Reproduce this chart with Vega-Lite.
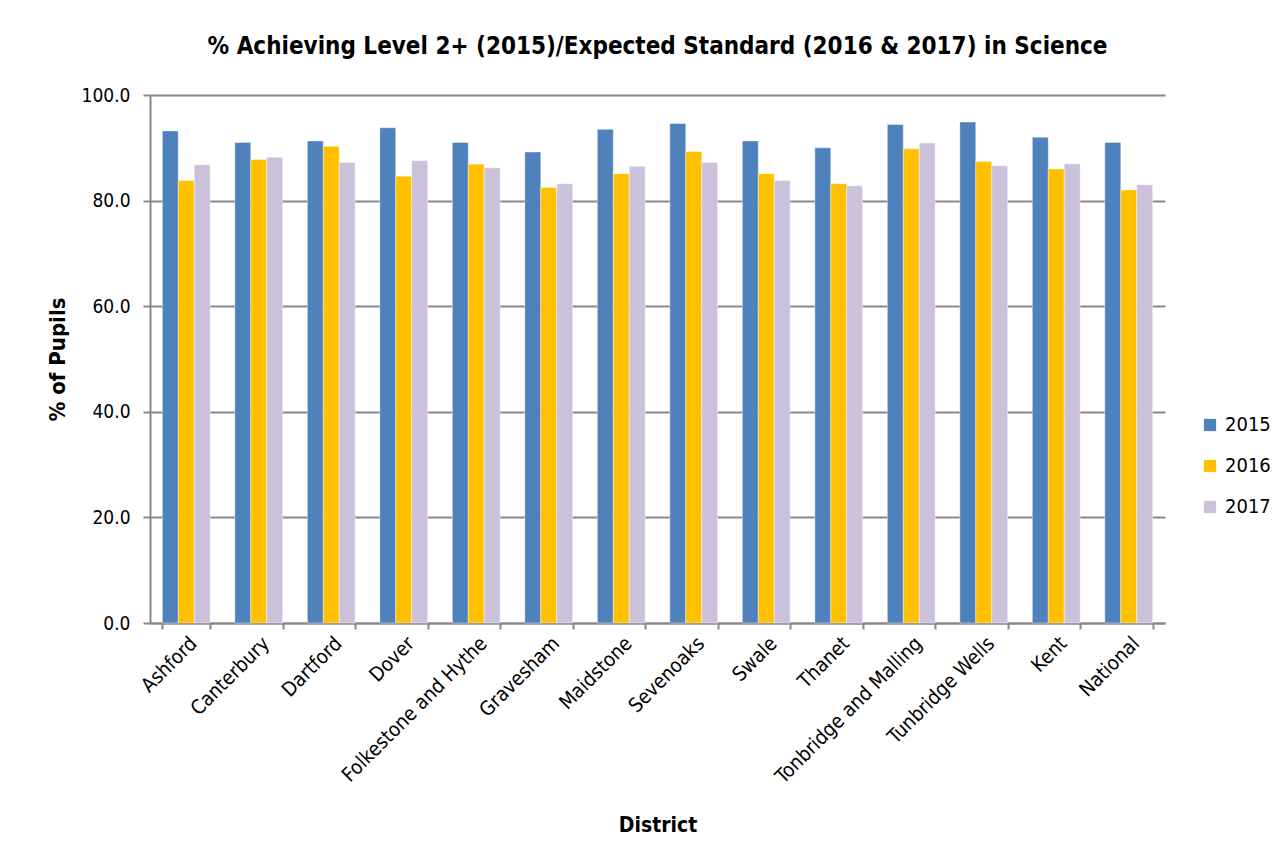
{
  "$schema": "https://vega.github.io/schema/vega-lite/v6.json",
  "width": 1015,
  "height": 528,
  "autosize": {"type": "none"},
  "padding": {"left": 150, "top": 95, "right": 119, "bottom": 241},
  "background": "white",
  "config": {
    "font": "DejaVu Sans Condensed",
    "view": {"stroke": null}
  },
  "title": {
    "text": "% Achieving Level 2+ (2015)/Expected Standard (2016 & 2017) in Science",
    "font": "DejaVu Sans Condensed",
    "fontSize": 24,
    "fontWeight": "bold",
    "color": "black",
    "anchor": "middle",
    "offset": 27
  },
  "data": {
    "values": [
      {"district": "Ashford", "year": "2015", "value": 93.2},
      {"district": "Ashford", "year": "2016", "value": 83.8},
      {"district": "Ashford", "year": "2017", "value": 86.8},
      {"district": "Canterbury", "year": "2015", "value": 91.0},
      {"district": "Canterbury", "year": "2016", "value": 87.8},
      {"district": "Canterbury", "year": "2017", "value": 88.2},
      {"district": "Dartford", "year": "2015", "value": 91.3},
      {"district": "Dartford", "year": "2016", "value": 90.3},
      {"district": "Dartford", "year": "2017", "value": 87.2},
      {"district": "Dover", "year": "2015", "value": 93.8},
      {"district": "Dover", "year": "2016", "value": 84.6},
      {"district": "Dover", "year": "2017", "value": 87.6},
      {"district": "Folkestone and Hythe", "year": "2015", "value": 91.0},
      {"district": "Folkestone and Hythe", "year": "2016", "value": 86.9},
      {"district": "Folkestone and Hythe", "year": "2017", "value": 86.2},
      {"district": "Gravesham", "year": "2015", "value": 89.2},
      {"district": "Gravesham", "year": "2016", "value": 82.5},
      {"district": "Gravesham", "year": "2017", "value": 83.2},
      {"district": "Maidstone", "year": "2015", "value": 93.5},
      {"district": "Maidstone", "year": "2016", "value": 85.1},
      {"district": "Maidstone", "year": "2017", "value": 86.5},
      {"district": "Sevenoaks", "year": "2015", "value": 94.6},
      {"district": "Sevenoaks", "year": "2016", "value": 89.3},
      {"district": "Sevenoaks", "year": "2017", "value": 87.2},
      {"district": "Swale", "year": "2015", "value": 91.3},
      {"district": "Swale", "year": "2016", "value": 85.1},
      {"district": "Swale", "year": "2017", "value": 83.8},
      {"district": "Thanet", "year": "2015", "value": 90.0},
      {"district": "Thanet", "year": "2016", "value": 83.2},
      {"district": "Thanet", "year": "2017", "value": 82.8},
      {"district": "Tonbridge and Malling", "year": "2015", "value": 94.4},
      {"district": "Tonbridge and Malling", "year": "2016", "value": 89.8},
      {"district": "Tonbridge and Malling", "year": "2017", "value": 90.9},
      {"district": "Tunbridge Wells", "year": "2015", "value": 94.9},
      {"district": "Tunbridge Wells", "year": "2016", "value": 87.4},
      {"district": "Tunbridge Wells", "year": "2017", "value": 86.6},
      {"district": "Kent", "year": "2015", "value": 92.0},
      {"district": "Kent", "year": "2016", "value": 86.0},
      {"district": "Kent", "year": "2017", "value": 87.0},
      {"district": "National", "year": "2015", "value": 91.0},
      {"district": "National", "year": "2016", "value": 82.0},
      {"district": "National", "year": "2017", "value": 83.0}
    ]
  },
  "mark": {"type": "bar", "stroke": "white", "strokeWidth": 0.7, "strokeOpacity": 0.6},
  "encoding": {
    "x": {
      "field": "district",
      "type": "nominal",
      "sort": null,
      "scale": {"paddingInner": 0.34, "paddingOuter": 0.17},
      "axis": {
        "title": "District",
        "titleFont": "DejaVu Sans Condensed",
        "titleFontSize": 21,
        "titleFontWeight": "bold",
        "titleColor": "black",
        "titleY": 202,
        "titleBaseline": "middle",
        "labelAngle": -45,
        "labelAlign": "right",
        "labelBaseline": "top",
        "labelFontSize": 20,
        "labelColor": "black",
        "labelPadding": 4,
        "labelLimit": 0,
        "labelOverlap": false,
        "tickBand": "extent",
        "tickSize": 6,
        "tickColor": "#888888",
        "tickWidth": 2,
        "domainColor": "#888888",
        "domainWidth": 2,
        "grid": false
      }
    },
    "xOffset": {"field": "year", "type": "nominal", "sort": ["2015", "2016", "2017"]},
    "y": {
      "field": "value",
      "type": "quantitative",
      "scale": {"domain": [0, 100]},
      "axis": {
        "title": "% of Pupils",
        "titleFont": "DejaVu Sans Condensed",
        "titleFontSize": 22,
        "titleFontWeight": "bold",
        "titleColor": "black",
        "titleX": -93,
        "titleBaseline": "middle",
        "values": [0, 20, 40, 60, 80, 100],
        "format": ".1f",
        "labelFontSize": 19,
        "labelColor": "black",
        "labelPadding": 13,
        "tickSize": 7,
        "tickColor": "#888888",
        "tickWidth": 2,
        "domainColor": "#888888",
        "domainWidth": 2,
        "grid": true,
        "gridColor": "#888888",
        "gridWidth": 2
      }
    },
    "color": {
      "field": "year",
      "type": "nominal",
      "scale": {"domain": ["2015", "2016", "2017"], "range": ["#4F81BD", "#FFC000", "#CCC1DA"]},
      "legend": {
        "title": null,
        "orient": "none",
        "legendX": 1050,
        "legendY": 320,
        "symbolType": "square",
        "symbolSize": 150,
        "symbolStrokeWidth": 0,
        "labelFontSize": 20,
        "labelColor": "black",
        "labelOffset": 5,
        "rowPadding": 21
      }
    }
  }
}
